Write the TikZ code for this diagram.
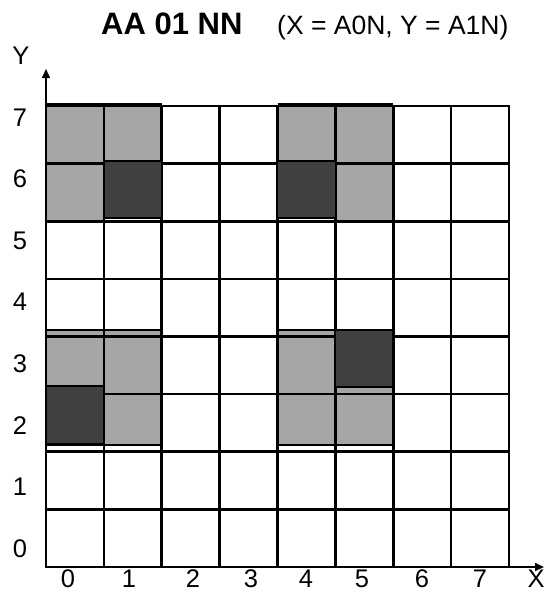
\documentclass[tikz,border=0pt]{standalone}
\usepackage{fontspec}
\setmainfont{Liberation Sans}
\usetikzlibrary{arrows.meta}
\definecolor{cellgray}{HTML}{A6A6A6}
\definecolor{celldark}{HTML}{404040}
\tikzset{
  gridline/.style={line width=2.6pt, line cap=rect},
  lightcell/.style={fill=cellgray},
  darkcell/.style={fill=celldark, draw=black, line width=1.6pt},
  overlaycell/.style={fill=cellgray, draw=black, line width=1.4pt},
  axisline/.style={line width=1.6pt, -{Triangle[length=9pt,width=8pt]}},
  axlabel/.style={font=\fontsize{25.5}{26}\selectfont, inner sep=0pt},
  titletext/.style={font=\fontsize{31}{31}\selectfont\bfseries, inner sep=0pt, anchor=base west},
  subtext/.style={font=\fontsize{26.5}{27}\selectfont, inner sep=0pt, anchor=base west}
}
\begin{document}
\begin{tikzpicture}[x=1pt,y=-1pt]
\clip (0,0) rectangle (547,592);
\fill[white] (0,0) rectangle (547,592);
\def\sx{57.875}
\def\sy{57.625}
% upper block light cells (rows 7,6)
\foreach \c/\r in {0/0,1/0,0/1,4/0,5/0,5/1}{
  \fill[lightcell] ({46+\c*\sx},{106+\r*\sy}) rectangle ++(\sx,\sy);
}
% lower block overlay (rows 3,2 shifted up)
\foreach \c in {0,1,4,5}{
  \draw[overlaycell] ({46+\c*\sx},330) rectangle ++(\sx,115);
}
% grid
\foreach \i in {0,...,8}{
  \draw[gridline] ({46+\i*\sx},106) -- ({46+\i*\sx},567);
  \draw[gridline] (46,{106+\i*\sy}) -- (509,{106+\i*\sy});
}
% thicker block edges
\draw[line width=3.4pt] (46,105) -- ({46+2*\sx},105);
\draw[line width=3.4pt] ({46+4*\sx},105) -- ({46+6*\sx},105);
\draw[line width=3.4pt] (46,{106+2*\sy}) -- ({46+2*\sx},{106+2*\sy});
\draw[line width=3.4pt] ({46+4*\sx},{106+2*\sy}) -- ({46+6*\sx},{106+2*\sy});
% dark cells
\draw[darkcell] ({46+1*\sx},161) rectangle ({46+2*\sx},218);
\draw[darkcell] ({46+4*\sx},161) rectangle ({46+5*\sx},218);
\draw[darkcell] (46,386) rectangle ({46+1*\sx},444);
\draw[darkcell] ({46+5*\sx},330) rectangle ({46+6*\sx},387);
% axes
\coordinate (o) at (46,567);
\coordinate (ytip) at (46,69);
\coordinate (xtip) at (544,567);
\draw[axisline] (o) -- (ytip);
\draw[axisline] (o) -- (xtip);
% title
\node[titletext] (title) at (101,34) {AA 01 NN};
\node[subtext] (sub) at (277,34) {(X = A0N, Y = A1N)};
\node[axlabel] (ylab) at (21,56) {Y};
\node[axlabel] (xlab) at (536,579) {X};
% row labels
\foreach \r in {0,...,7}{
  \node[axlabel] (r\r) at (20,{548.5-\r*61.57}) {\r};
}
% column labels
\foreach \c/\xx in {0/68,1/129,2/193,3/251,4/306,5/362,6/422,7/480}{
  \node[axlabel] (c\c) at (\xx,579) {\c};
}
\end{tikzpicture}
\end{document}
